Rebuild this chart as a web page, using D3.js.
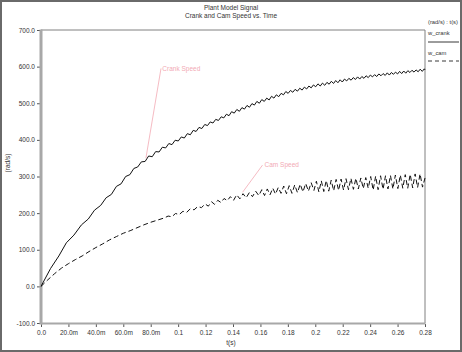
<!DOCTYPE html>
<html>
<head>
<meta charset="utf-8">
<script src="https://cdn.jsdelivr.net/npm/d3@7"></script>
<style>
body { margin: 0; background: #fff; }
svg text { font-family: 'Liberation Sans', Arial, sans-serif; fill: #333; }
</style>
</head>
<body>
<svg id="chart"></svg>
<script>
// crank speed (rad/s) against time (ms)
let crankT = [0,7,13,18.5,24,29.5,34.5,39,43.5,47.5,
  51.3,55,58.4,61.7,64.8,67.7,70.5,73.2,75.9,78.5,
  81.1,83.6,86.1,88.5,90.9,93.2,95.5,97.8,100.1,102.3,
  104.5,106.7,108.9,111,113.1,115.2,117.3,119.4,121.4,123.4,
  125.4,127.4,129.4,131.4,133.3,135.2,137.1,139,140.9,142.8,
  144.65,146.5,148.35,150.2,152,153.8,155.6,157.4,159.2,161,
  162.8,164.6,166.35,168.1,169.85,171.6,173.35,175.1,176.8,178.5,
  180.2,181.9,183.6,185.3,187,188.7,190.4,192.05,193.7,195.35,
  197,198.65,200.3,201.95,203.6,205.25,206.9,208.5,210.1,211.7,
  213.3,214.9,216.5,218.1,219.7,221.3,222.9,224.5,226.1,227.7,
  229.3,230.85,232.4,233.95,235.5,237.05,238.6,240.15,241.7,243.25,
  244.8,246.35,247.9,249.45,251,252.5,254,255.5,257,258.5,
  260,261.5,263,264.5,266,267.5,269,270.5,272,273.5,
  275,276.5,278,279.5,280]
let crankV = [0,49,83,119,140,168,184,208,221,242,
  251,273,280,300,305,322,326,340,341,356,
  354,368,367,380,378,390,387,399,397,408,
  405,417,414,426,423,434,431,442,439,449,
  446,456,453,463,460,470,466,477,473,483,
  478,488,484,494,489,499,495,505,500,510,
  505,514,509,519,514,523,518,527,523,532,
  527,535,530,538,533,541,536,544,539,547,
  542,550,545,553,547,555,549,557,552,560,
  554,562,556,564,558,566,561,568,563,570,
  565,572,566,573,568,575,570,577,572,578,
  573,580,575,581,576,583,577,584,579,585,
  580,587,581,588,582,589,584,590,585,591,
  586,593,587,594,591]

// cam speed (rad/s) against time (ms)
let camT = [0,5,10,15,20,25,30,35,40,45,50,55,60,65,70,75,80,85,90,
  92.7,95.4,98.1,100.8,103.5,106.2,108.9,111.6,114.3,117,119.7,
  122,124.3,126.6,128.9,131.2,133.5,135.8,138.1,140.4,142.7,145,147.3,149.6,151.9,154.2,156.5,158.8,
  161,163,165,167,169,171,173,175,177,179,181,183,185,187,189,191,193,195,197,199,
  200.8,202.6,204.4,206.2,208,209.8,211.6,213.4,215.2,217,218.8,220.6,222.4,224.2,226,227.8,229.6,231.4,233.2,235,
  236.8,238.6,240.4,242.2,244,245.8,247.6,249.4,251.2,253,254.8,256.6,258.4,260.2,262,263.8,265.6,267.4,269.2,271,
  272.8,274.6,276.4,278.2,280]
let camV = [0,18,35,50,62,73,83,95,106,116,127,136,145,152,160,168,175,181,187,
  192,190,199,196,205,202,212,209,218,215,225,
  219,231,224,235,229,240,234,245,235,250,239,253,242,256,245,260,248,
  264,248,266,250,268,252,270,254,274,253,275,254,277,256,279,258,281,260,283,262,
  287,258,288,259,289,260,290,261,292,262,293,263,294,264,295,265,295,266,296,267,
  297,268,300,263,301,264,302,265,302,266,303,266,304,267,304,268,305,268,306,269,
  307,270,307,271,296]

let xTicks = [0,0.02,0.04,0.06,0.08,0.1,0.12,0.14,0.16,0.18,0.2,0.22,0.24,0.26,0.28]
let xTickLabels = ['0.0','20.0m','40.0m','60.0m','80.0m','0.1','0.12','0.14','0.16','0.18','0.2','0.22','0.24','0.26','0.28']
let yTicks = [700,600,500,400,300,200,100,0,-100]
let yTickLabels = ['700.0','600.0','500.0','400.0','300.0','200.0','100.0','0.0','-100.0']

let width = 462
let height = 352
let plotLeft = 41, plotRight = 425, plotTop = 30, plotBottom = 323

let svg = d3.select('#chart').attr('width', width).attr('height', height)

let xScale = d3.scaleLinear().domain([0, 0.28]).range([plotLeft, plotRight])
let yScale = d3.scaleLinear().domain([-100, 700]).range([plotBottom, plotTop])

// outer frame
svg.append('rect')
   .attr('x', 1).attr('y', 1)
   .attr('width', width - 2).attr('height', height - 2)
   .attr('fill', '#fff')
   .attr('stroke', '#6a6a6a')
   .attr('stroke-width', 2)

// titles
svg.append('text').attr('x', 231).attr('y', 10).attr('text-anchor', 'middle')
   .attr('font-size', 6.5).text('Plant Model Signal')
svg.append('text').attr('x', 231).attr('y', 17.5).attr('text-anchor', 'middle')
   .attr('font-size', 6.5).text('Crank and Cam Speed vs. Time')

// plot box
svg.append('line').attr('x1', plotLeft).attr('x2', plotRight).attr('y1', plotTop).attr('y2', plotTop)
   .attr('stroke', '#808080').attr('stroke-width', 1)
svg.append('line').attr('x1', plotRight).attr('x2', plotRight).attr('y1', plotTop).attr('y2', plotBottom)
   .attr('stroke', '#808080').attr('stroke-width', 1)

let xAxis = d3.axisBottom(xScale)
              .tickValues(xTicks)
              .tickFormat((d, i) => xTickLabels[i])
              .tickSize(3)
              .tickPadding(3)
svg.append('g')
   .attr('transform', 'translate(0,' + (plotBottom + 1) + ')')
   .call(xAxis)
   .call(g => g.select('.domain').remove())
   .call(g => g.selectAll('line').attr('stroke', '#555'))
   .call(g => g.selectAll('text').attr('font-size', 6.5).attr('font-family', 'Liberation Sans, Arial, sans-serif').attr('fill', '#333'))

let yAxis = d3.axisLeft(yScale)
              .tickValues(yTicks)
              .tickFormat((d, i) => yTickLabels[i])
              .tickSize(3)
              .tickPadding(2)
svg.append('g')
   .attr('transform', 'translate(' + (plotLeft - 1) + ',0)')
   .call(yAxis)
   .call(g => g.select('.domain').remove())
   .call(g => g.selectAll('line').attr('stroke', '#555'))
   .call(g => g.selectAll('text').attr('font-size', 6.5).attr('font-family', 'Liberation Sans, Arial, sans-serif').attr('fill', '#333'))

svg.append('line').attr('x1', plotLeft).attr('x2', plotLeft).attr('y1', plotTop - 0.5).attr('y2', plotBottom + 1.5)
   .attr('stroke', '#a8a8a8').attr('stroke-width', 3)
svg.append('line').attr('x1', plotLeft).attr('x2', plotRight + 0.5).attr('y1', plotBottom + 0.5).attr('y2', plotBottom + 0.5)
   .attr('stroke', '#a8a8a8').attr('stroke-width', 2)

svg.append('text').attr('x', 231).attr('y', 345).attr('text-anchor', 'middle')
   .attr('font-size', 6.5).text('t(s)')
svg.append('text').attr('transform', 'translate(10,163) rotate(-90)').attr('text-anchor', 'middle')
   .attr('font-size', 6.5).text('(rad/s)')

// series
let crank = crankT.map((t, i) => [t / 1000, crankV[i]])
let cam = camT.map((t, i) => [t / 1000, camV[i]])

let line = d3.line()
             .x(d => xScale(d[0]))
             .y(d => yScale(d[1]))

svg.append('path')
   .datum(cam)
   .attr('d', line)
   .attr('fill', 'none')
   .attr('stroke', '#111')
   .attr('stroke-width', 1)
   .attr('stroke-dasharray', '5,3')

svg.append('path')
   .datum(crank)
   .attr('d', line)
   .attr('fill', 'none')
   .attr('stroke', '#111')
   .attr('stroke-width', 1)

// annotations
let pink = '#f2aab4'
svg.append('line')
   .attr('x1', xScale(0.0875)).attr('y1', yScale(595))
   .attr('x2', xScale(0.0765)).attr('y2', yScale(350))
   .attr('stroke', pink).attr('stroke-width', 0.8)
svg.append('text').attr('x', xScale(0.0885)).attr('y', yScale(588))
   .attr('font-size', 6.5).style('fill', pink).text('Crank Speed')

svg.append('line')
   .attr('x1', xScale(0.1615)).attr('y1', yScale(331))
   .attr('x2', xScale(0.147)).attr('y2', yScale(257))
   .attr('stroke', pink).attr('stroke-width', 0.8)
svg.append('text').attr('x', xScale(0.163)).attr('y', yScale(326))
   .attr('font-size', 6.5).style('fill', pink).text('Cam Speed')

// legend
svg.append('text').attr('x', 428).attr('y', 24).attr('font-size', 5.8).text('(rad/s) : t(s)')
svg.append('text').attr('x', 428).attr('y', 35).attr('font-size', 5.8).text('w_crank')
svg.append('line').attr('x1', 428).attr('x2', 459).attr('y1', 42).attr('y2', 42)
   .attr('stroke', '#222').attr('stroke-width', 0.9)
svg.append('text').attr('x', 428).attr('y', 55).attr('font-size', 5.8).text('w_cam')
svg.append('line').attr('x1', 428).attr('x2', 459).attr('y1', 61).attr('y2', 61)
   .attr('stroke', '#222').attr('stroke-width', 0.9).attr('stroke-dasharray', '4,3')
</script>
</body>
</html>
